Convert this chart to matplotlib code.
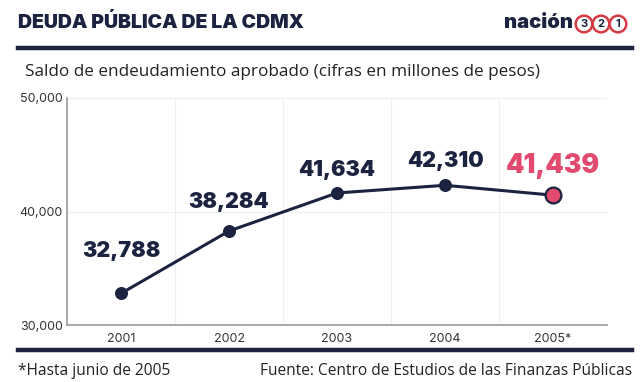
import matplotlib.pyplot as plt
from matplotlib.lines import Line2D

years = ["2001", "2002", "2003", "2004", "2005*"]
deuda = [32788, 38284, 41634, 42310, 41439]
y_ticks = [30000, 40000, 50000]

navy = "#1c2340"
red = "#e34a6f"
grey = "#9a9a9a"

fig = plt.figure(figsize=(6.4, 3.82), dpi=100)
ax = fig.add_axes([0.1047, 0.149, 0.8438, 0.5945])

x = list(range(len(years)))
ax.plot(x, deuda, color=navy, lw=2.2, zorder=3)
ax.scatter(x[:-1], deuda[:-1], s=70, color=navy, zorder=4)
ax.scatter(x[-1], deuda[-1], s=130, color=red, edgecolor=navy, lw=1.6, zorder=5)

# label offsets in points above each marker
offsets = [23, 14, 9, 10, 12]
for i, v in enumerate(deuda):
    last = i == len(deuda) - 1
    ax.annotate(f"{v:,}", (x[i], v), xytext=(0, offsets[i]), textcoords="offset points",
                ha="center", va="bottom", fontsize=19 if last else 15.5,
                fontweight="black", family="Inter", color=red if last else navy)

ax.set_xlim(-0.5, len(years) - 0.5)
ax.set_ylim(30000, 50000)
ax.set_yticks(y_ticks)
ax.set_yticklabels([f"{t:,}" for t in y_ticks], family="Inter", fontsize=9, color="#333333")
ax.set_xticks(x)
ax.set_xticklabels(years, family="Inter", fontsize=9, color="#333333")
ax.tick_params(length=0, pad=6)
ax.tick_params(axis="y", pad=3)

for b in [i + 0.5 for i in x[:-1]]:
    ax.axvline(b, color="#eeeeee", lw=0.8, zorder=0)
ax.axhline(40000, color="#eeeeee", lw=0.8, zorder=0)
ax.axhline(50000, color="#eeeeee", lw=0.8, zorder=0)

for s in ["top", "right"]:
    ax.spines[s].set_visible(False)
ax.spines["left"].set_color(grey)
ax.spines["bottom"].set_color(grey)
ax.spines["left"].set_linewidth(1.2)
ax.spines["bottom"].set_linewidth(1.2)

# header
fig.text(18 / 640, 1 - 23 / 382, "DEUDA PÚBLICA DE LA CDMX", family="Inter", fontweight="black",
         fontsize=14, color=navy, va="center", ha="left")
fig.text(573 / 640, 1 - 23 / 382, "nación", family="Inter", fontweight="black",
         fontsize=14.5, color=navy, va="center", ha="right")
for k, d in enumerate(["3", "2", "1"]):
    fig.text((584 + k * 17) / 640, 1 - 24 / 382, d, family="Inter", fontweight="bold",
             fontsize=8, color=navy, va="center", ha="center",
             bbox=dict(boxstyle="circle,pad=0.3", fc="white", ec="#d63a45", lw=1.8))

fig.add_artist(Line2D([18 / 640, 632 / 640], [1 - 48 / 382] * 2, color=navy, lw=3.2))
fig.add_artist(Line2D([18 / 640, 632 / 640], [1 - 350 / 382] * 2, color=navy, lw=3.2))

fig.text(25 / 640, 1 - 72 / 382, "Saldo de endeudamiento aprobado (cifras en millones de pesos)",
         family="Open Sans", fontsize=12.3, color="#222222", va="center", ha="left")

fig.text(18 / 640, 1 - 371 / 382, "*Hasta junio de 2005", family="Open Sans", fontsize=11.2,
         color="#222222", va="center", ha="left")
fig.text(632 / 640, 1 - 371 / 382, "Fuente: Centro de Estudios de las Finanzas Públicas",
         family="Open Sans", fontsize=11.2, color="#222222", va="center", ha="right")

fig.savefig("out.png", dpi=100)
